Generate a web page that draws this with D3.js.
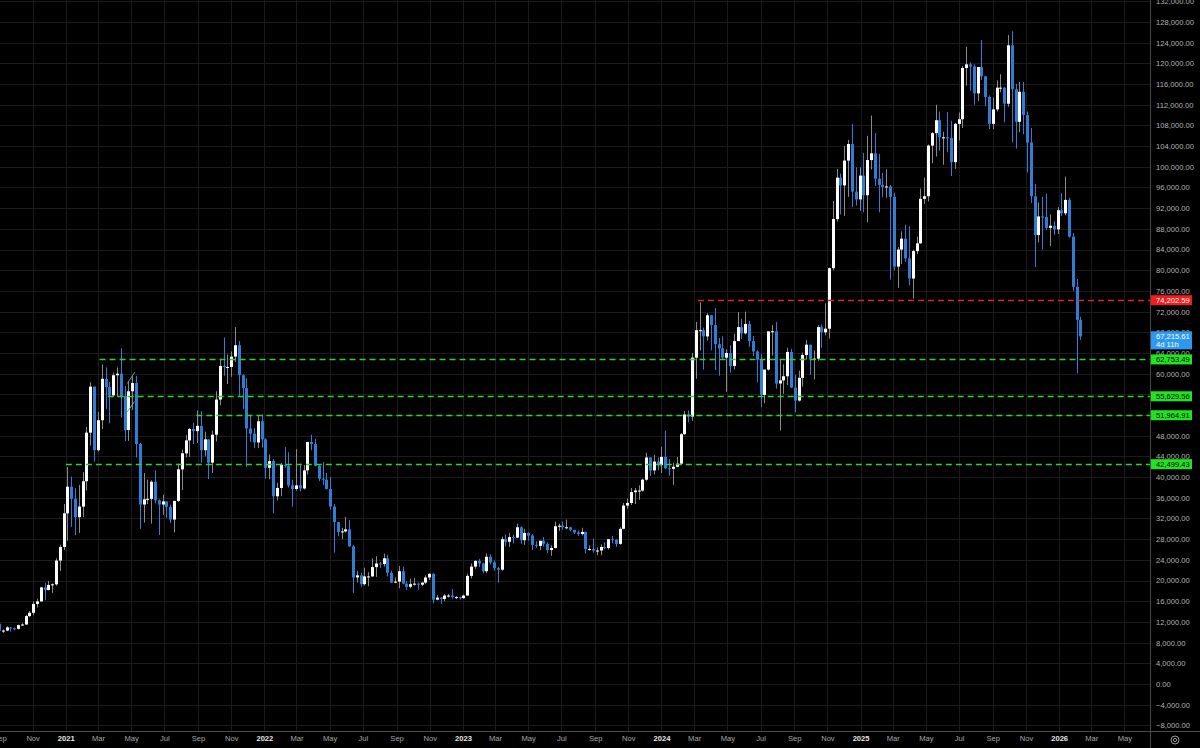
<!DOCTYPE html>
<html>
<head>
<meta charset="utf-8">
<script src="https://cdn.jsdelivr.net/npm/d3@7"></script>
<style>
  html, body { margin: 0; padding: 0; background: #000; }
  svg { display: block; font-family: "Liberation Sans", Arial, sans-serif; }
</style>
</head>
<body>
<svg width="1200" height="748"></svg>
<script>
// недельные свечи BTC: [начало недели, open, high, low, close]
const weeks2020 = [
  ["2020-08-31", 11650, 12090, 9880, 10280],
  ["2020-09-07", 10280, 10580, 9880, 10330],
  ["2020-09-14", 10330, 11180, 10200, 10930],
  ["2020-09-21", 10930, 10990, 10140, 10770],
  ["2020-09-28", 10770, 10950, 10380, 10670],
  ["2020-10-05", 10670, 11490, 10540, 11380],
  ["2020-10-12", 11380, 11720, 11220, 11500],
  ["2020-10-19", 11500, 13350, 11420, 13120],
  ["2020-10-26", 13120, 14090, 12960, 13770],
  ["2020-11-02", 13770, 15960, 13300, 15480],
  ["2020-11-09", 15480, 16480, 14800, 15960],
  ["2020-11-16", 15960, 18790, 15950, 18680],
  ["2020-11-23", 18680, 19480, 16200, 18180],
  ["2020-11-30", 18180, 19920, 18100, 19150],
  ["2020-12-07", 19150, 19430, 17600, 19270],
  ["2020-12-14", 19270, 24300, 19000, 23860],
  ["2020-12-21", 23860, 26900, 21850, 26490],
  ["2020-12-28", 26490, 34800, 25900, 33000]
];

const weeks2021 = [
  ["2021-01-04", 33000, 41950, 27700, 38150],
  ["2021-01-11", 38150, 40100, 30400, 35800],
  ["2021-01-18", 35800, 37850, 28800, 32250],
  ["2021-01-25", 32250, 38500, 29200, 34300],
  ["2021-02-01", 34300, 40950, 32300, 39200],
  ["2021-02-08", 39200, 49700, 37400, 48600],
  ["2021-02-15", 48600, 58350, 46100, 57500],
  ["2021-02-22", 57500, 57500, 43000, 45200],
  ["2021-03-01", 45200, 52600, 44950, 51000],
  ["2021-03-08", 51000, 61780, 49300, 59000],
  ["2021-03-15", 59000, 61200, 53200, 57400],
  ["2021-03-22", 57400, 58400, 50400, 55800],
  ["2021-03-29", 55800, 60200, 55500, 59700],
  ["2021-04-05", 59700, 61200, 55500, 60000],
  ["2021-04-12", 60000, 64900, 51500, 55700],
  ["2021-04-19", 55700, 57600, 47000, 49100],
  ["2021-04-26", 49100, 58400, 47000, 56600],
  ["2021-05-03", 56600, 59500, 53000, 58200],
  ["2021-05-10", 58200, 59600, 43800, 46400],
  ["2021-05-17", 46400, 46600, 30000, 34700],
  ["2021-05-24", 34700, 40800, 31200, 35700],
  ["2021-05-31", 35700, 39500, 34800, 35800],
  ["2021-06-07", 35800, 39400, 31000, 39100],
  ["2021-06-14", 39100, 41300, 34900, 35500],
  ["2021-06-21", 35500, 35700, 28800, 34700],
  ["2021-06-28", 34700, 36600, 32700, 35300],
  ["2021-07-05", 35300, 35300, 32100, 34250],
  ["2021-07-12", 34250, 34700, 31100, 31800],
  ["2021-07-19", 31800, 35400, 29300, 35400],
  ["2021-07-26", 35400, 42600, 35200, 41500],
  ["2021-08-02", 41500, 45300, 37500, 44600],
  ["2021-08-09", 44600, 48100, 43800, 47100],
  ["2021-08-16", 47100, 49500, 43900, 49300],
  ["2021-08-23", 49300, 50500, 46400, 48900],
  ["2021-08-30", 48900, 52900, 46600, 49900],
  ["2021-09-06", 49900, 52800, 42800, 45200],
  ["2021-09-13", 45200, 48800, 44000, 47300],
  ["2021-09-20", 47300, 47300, 39600, 42800],
  ["2021-09-27", 42800, 49000, 40800, 48200],
  ["2021-10-04", 48200, 56600, 46900, 55000],
  ["2021-10-11", 55000, 62900, 53900, 61500],
  ["2021-10-18", 61500, 67000, 59600, 61300],
  ["2021-10-25", 61300, 63700, 58000, 61300],
  ["2021-11-01", 61300, 64300, 59400, 63300],
  ["2021-11-08", 63300, 69000, 62300, 65500],
  ["2021-11-15", 65500, 66300, 55600, 59700],
  ["2021-11-22", 59700, 59900, 53200, 57200],
  ["2021-11-29", 57200, 59100, 42000, 49400],
  ["2021-12-06", 49400, 51900, 46800, 48400],
  ["2021-12-13", 48400, 49500, 45600, 46700],
  ["2021-12-20", 46700, 51900, 45600, 50800],
  ["2021-12-27", 50800, 52100, 45700, 47300]
];

const weeks2022 = [
  ["2022-01-03", 47300, 47500, 39700, 41800],
  ["2022-01-10", 41800, 44400, 39600, 43100],
  ["2022-01-17", 43100, 43500, 33000, 36300],
  ["2022-01-24", 36300, 38900, 35500, 37900],
  ["2022-01-31", 37900, 42700, 36300, 42400],
  ["2022-02-07", 42400, 45800, 41800, 42200],
  ["2022-02-14", 42200, 44800, 38000, 38400],
  ["2022-02-21", 38400, 39500, 34300, 37700],
  ["2022-02-28", 37700, 45400, 37400, 38400],
  ["2022-03-07", 38400, 42600, 37200, 37800],
  ["2022-03-14", 37800, 42300, 37600, 41300],
  ["2022-03-21", 41300, 46700, 40500, 46800],
  ["2022-03-28", 46800, 48200, 45200, 46400],
  ["2022-04-04", 46400, 47400, 42100, 42200],
  ["2022-04-11", 42200, 42400, 39200, 39700],
  ["2022-04-18", 39700, 42900, 38500, 39500],
  ["2022-04-25", 39500, 40800, 37600, 37700],
  ["2022-05-02", 37700, 40000, 33700, 34300],
  ["2022-05-09", 34300, 34800, 25400, 31300],
  ["2022-05-16", 31300, 31300, 28600, 29400],
  ["2022-05-23", 29400, 30200, 28000, 29500],
  ["2022-05-30", 29500, 32300, 29300, 29900],
  ["2022-06-06", 29900, 31700, 26500, 26600],
  ["2022-06-13", 26600, 26900, 17600, 20600],
  ["2022-06-20", 20600, 21900, 19600, 21000],
  ["2022-06-27", 21000, 21500, 18800, 19300],
  ["2022-07-04", 19300, 22500, 19000, 20800],
  ["2022-07-11", 20800, 21600, 18900, 20800],
  ["2022-07-18", 20800, 24300, 20700, 22600],
  ["2022-07-25", 22600, 24700, 20700, 23300],
  ["2022-08-01", 23300, 23600, 22400, 23200],
  ["2022-08-08", 23200, 25200, 22700, 24300],
  ["2022-08-15", 24300, 25000, 20800, 21500],
  ["2022-08-22", 21500, 21900, 19500, 19600],
  ["2022-08-29", 19600, 20600, 19500, 19800],
  ["2022-09-05", 19800, 22800, 18500, 21800],
  ["2022-09-12", 21800, 22700, 19300, 19400],
  ["2022-09-19", 19400, 19900, 18200, 18800],
  ["2022-09-26", 18800, 20400, 18500, 19300],
  ["2022-10-03", 19300, 20500, 19000, 19400],
  ["2022-10-10", 19400, 19600, 18200, 19200],
  ["2022-10-17", 19200, 19700, 18900, 19600],
  ["2022-10-24", 19600, 21000, 19300, 20600],
  ["2022-10-31", 20600, 21400, 20100, 21300],
  ["2022-11-07", 21300, 21400, 15600, 16300],
  ["2022-11-14", 16300, 17200, 16200, 16700],
  ["2022-11-21", 16700, 16800, 15500, 16450],
  ["2022-11-28", 16450, 17400, 16000, 17100],
  ["2022-12-05", 17100, 17400, 16700, 17100],
  ["2022-12-12", 17100, 18400, 16500, 16800],
  ["2022-12-19", 16800, 17000, 16400, 16800],
  ["2022-12-26", 16800, 16900, 16300, 16600]
];

const weeks2023 = [
  ["2023-01-02", 16600, 17300, 16500, 17100],
  ["2023-01-09", 17100, 21300, 17100, 20900],
  ["2023-01-16", 20900, 23300, 20400, 22700],
  ["2023-01-23", 22700, 23900, 22300, 23800],
  ["2023-01-30", 23800, 24200, 22600, 23300],
  ["2023-02-06", 23300, 23400, 21400, 21800],
  ["2023-02-13", 21800, 25250, 21400, 24600],
  ["2023-02-20", 24600, 25100, 23100, 23500],
  ["2023-02-27", 23500, 23900, 21900, 22400],
  ["2023-03-06", 22400, 22600, 19600, 22100],
  ["2023-03-13", 22100, 28500, 21900, 28000],
  ["2023-03-20", 28000, 28900, 26600, 27500],
  ["2023-03-27", 27500, 29200, 26500, 28400],
  ["2023-04-03", 28400, 28800, 27200, 28300],
  ["2023-04-10", 28300, 31000, 28200, 30300],
  ["2023-04-17", 30300, 30500, 27100, 27800],
  ["2023-04-24", 27800, 30000, 26900, 29200],
  ["2023-05-01", 29200, 29300, 27700, 28700],
  ["2023-05-08", 28700, 29000, 25900, 26900],
  ["2023-05-15", 26900, 27600, 26300, 26700],
  ["2023-05-22", 26700, 27400, 25900, 27700],
  ["2023-05-29", 27700, 28400, 26600, 27100],
  ["2023-06-05", 27100, 27400, 25300, 25900],
  ["2023-06-12", 25900, 26800, 24800, 26300],
  ["2023-06-19", 26300, 31400, 26200, 30500],
  ["2023-06-26", 30500, 31000, 29600, 30600],
  ["2023-07-03", 30600, 31400, 29800, 30300],
  ["2023-07-10", 30300, 31800, 29900, 30300],
  ["2023-07-17", 30300, 30400, 29500, 29800],
  ["2023-07-24", 29800, 29800, 29000, 29300],
  ["2023-07-31", 29300, 29700, 28600, 29000],
  ["2023-08-07", 29000, 30200, 28700, 29400],
  ["2023-08-14", 29400, 29500, 25200, 26100],
  ["2023-08-21", 26100, 26800, 25800, 26100],
  ["2023-08-28", 26100, 28100, 25400, 25800],
  ["2023-09-04", 25800, 26400, 24900, 25800],
  ["2023-09-11", 25800, 27000, 24900, 26500],
  ["2023-09-18", 26500, 27400, 26000, 26300],
  ["2023-09-25", 26300, 28000, 26000, 28000],
  ["2023-10-02", 28000, 28600, 27200, 27900],
  ["2023-10-09", 27900, 28000, 26500, 27100],
  ["2023-10-16", 27100, 30300, 26900, 30000],
  ["2023-10-23", 30000, 35000, 29900, 34500],
  ["2023-10-30", 34500, 35900, 33900, 35000],
  ["2023-11-06", 35000, 37900, 34600, 37100],
  ["2023-11-13", 37100, 37900, 34800, 37400],
  ["2023-11-20", 37400, 38400, 35600, 37400],
  ["2023-11-27", 37400, 39700, 37200, 39500],
  ["2023-12-04", 39500, 44700, 39300, 43800],
  ["2023-12-11", 43800, 43800, 40200, 41300],
  ["2023-12-18", 41300, 44300, 40500, 43000],
  ["2023-12-25", 43000, 43800, 41300, 42300]
];

const weeks2024 = [
  ["2024-01-01", 42300, 45900, 40800, 43900],
  ["2024-01-08", 43900, 49000, 41500, 41700],
  ["2024-01-15", 41700, 43500, 40300, 41600],
  ["2024-01-22", 41600, 42800, 38500, 42000],
  ["2024-01-29", 42000, 43900, 41900, 42600],
  ["2024-02-05", 42600, 48500, 42300, 48300],
  ["2024-02-12", 48300, 52800, 48200, 52100],
  ["2024-02-19", 52100, 52900, 50600, 51700],
  ["2024-02-26", 51700, 64000, 50900, 63100],
  ["2024-03-04", 63100, 70000, 59000, 68400],
  ["2024-03-11", 68400, 73800, 64500, 68400],
  ["2024-03-18", 68400, 68900, 60800, 67200],
  ["2024-03-25", 67200, 71700, 66400, 71300],
  ["2024-04-01", 71300, 71300, 64500, 69400],
  ["2024-04-08", 69400, 72700, 60700, 65700],
  ["2024-04-15", 65700, 66900, 59600, 64900],
  ["2024-04-22", 64900, 67200, 62800, 63100],
  ["2024-04-29", 63100, 64700, 56500, 64000],
  ["2024-05-06", 64000, 65500, 60200, 61500],
  ["2024-05-13", 61500, 67700, 60800, 66300],
  ["2024-05-20", 66300, 71900, 66300, 69000],
  ["2024-05-27", 69000, 70600, 66700, 67800],
  ["2024-06-03", 67800, 72000, 67600, 69600],
  ["2024-06-10", 69600, 70200, 65200, 66300],
  ["2024-06-17", 66300, 67300, 63400, 64300],
  ["2024-06-24", 64300, 64500, 58400, 62700],
  ["2024-07-01", 62700, 63800, 53500, 55900],
  ["2024-07-08", 55900, 60400, 54300, 60800],
  ["2024-07-15", 60800, 66000, 60600, 68200],
  ["2024-07-22", 68200, 69400, 63500, 68200],
  ["2024-07-29", 68200, 70000, 57100, 58100],
  ["2024-08-05", 58100, 62800, 49000, 58700],
  ["2024-08-12", 58700, 61800, 56100, 59500],
  ["2024-08-19", 59500, 65000, 57800, 64200],
  ["2024-08-26", 64200, 64800, 57200, 57300],
  ["2024-09-02", 57300, 59800, 52500, 54800],
  ["2024-09-09", 54800, 60600, 54600, 59200],
  ["2024-09-16", 59200, 64100, 57500, 63600],
  ["2024-09-23", 63600, 66500, 62700, 65600],
  ["2024-09-30", 65600, 65600, 59800, 62900],
  ["2024-10-07", 62900, 64500, 58900, 62900],
  ["2024-10-14", 62900, 69400, 62500, 69000],
  ["2024-10-21", 69000, 69500, 65000, 68000],
  ["2024-10-28", 68000, 73600, 67400, 68700],
  ["2024-11-04", 68700, 80500, 66800, 80400],
  ["2024-11-11", 80400, 93400, 80000, 89900],
  ["2024-11-18", 89900, 99600, 89400, 97900],
  ["2024-11-25", 97900, 98700, 90800, 96400],
  ["2024-12-02", 96400, 104000, 90500, 101200],
  ["2024-12-09", 101200, 105200, 94200, 104400],
  ["2024-12-16", 104400, 108300, 92200, 95200],
  ["2024-12-23", 95200, 99900, 92500, 93700],
  ["2024-12-30", 93700, 99900, 91500, 98300]
];

const weeks2025 = [
  ["2025-01-06", 98300, 102700, 91200, 94500],
  ["2025-01-13", 94500, 106000, 89300, 101300],
  ["2025-01-20", 101300, 109900, 99500, 102600],
  ["2025-01-27", 102600, 106500, 96300, 97700],
  ["2025-02-03", 97700, 102500, 91200, 96500],
  ["2025-02-10", 96500, 98800, 94100, 96100],
  ["2025-02-17", 96100, 99500, 94000, 96200],
  ["2025-02-24", 96200, 96500, 78200, 94200],
  ["2025-03-03", 94200, 95000, 80000, 80700],
  ["2025-03-10", 80700, 84500, 76600, 84000],
  ["2025-03-17", 84000, 87500, 81200, 86100],
  ["2025-03-24", 86100, 88800, 81600, 82300],
  ["2025-03-31", 82300, 88500, 77100, 78400],
  ["2025-04-07", 78400, 84000, 74500, 83700],
  ["2025-04-14", 83700, 86500, 83100, 85200],
  ["2025-04-21", 85200, 95800, 85100, 93800],
  ["2025-04-28", 93800, 97900, 92800, 94300],
  ["2025-05-05", 94300, 104300, 93300, 104100],
  ["2025-05-12", 104100, 106700, 100700, 106500],
  ["2025-05-19", 106500, 112000, 102000, 109000],
  ["2025-05-26", 109000, 110700, 103100, 105700],
  ["2025-06-02", 105700, 106800, 100400, 105700],
  ["2025-06-09", 105700, 110600, 102800, 105600],
  ["2025-06-16", 105600, 108900, 98200, 100900],
  ["2025-06-23", 100900, 108500, 99600, 108300],
  ["2025-06-30", 108300, 110500, 105100, 109200],
  ["2025-07-07", 109200, 119500, 107500, 119100],
  ["2025-07-14", 119100, 123200, 115700, 119800],
  ["2025-07-21", 119800, 120200, 114700, 119400],
  ["2025-07-28", 119400, 119800, 112000, 114200],
  ["2025-08-04", 114200, 119300, 112700, 119300],
  ["2025-08-11", 119300, 124500, 116800, 117500],
  ["2025-08-18", 117500, 117600, 111700, 113500],
  ["2025-08-25", 113500, 113800, 107300, 108300],
  ["2025-09-01", 108300, 113400, 107300, 111100],
  ["2025-09-08", 111100, 116700, 110700, 115300],
  ["2025-09-15", 115300, 117900, 114400, 115300],
  ["2025-09-22", 115300, 115400, 108600, 112200],
  ["2025-09-29", 112200, 125500, 111600, 123500],
  ["2025-10-06", 123500, 126200, 104700, 115000],
  ["2025-10-13", 115000, 116000, 103500, 108700],
  ["2025-10-20", 108700, 116400, 106700, 114500],
  ["2025-10-27", 114500, 116400, 106300, 110000],
  ["2025-11-03", 110000, 110700, 98900, 104700],
  ["2025-11-10", 104700, 107500, 93000, 94300],
  ["2025-11-17", 94300, 96700, 80600, 86800],
  ["2025-11-24", 86800, 93100, 85400, 90400],
  ["2025-12-01", 90400, 94200, 84000, 90300],
  ["2025-12-08", 90300, 94800, 87800, 88200],
  ["2025-12-15", 88200, 90800, 84700, 88600],
  ["2025-12-22", 88600, 89500, 86800, 87900],
  ["2025-12-29", 87900, 92200, 87000, 91600]
];

const weeks2026 = [
  ["2026-01-05", 91600, 94900, 90500, 91000],
  ["2026-01-12", 91000, 98100, 90600, 93600],
  ["2026-01-19", 93600, 94000, 86300, 86500],
  ["2026-01-26", 86500, 87200, 76000, 76800],
  ["2026-02-02", 76800, 78300, 60100, 70400],
  ["2026-02-09", 70400, 71000, 66500, 67215.61]
];

// горизонтальные уровни
const levelPrices = [74202.59, 62753.49, 55629.56, 51964.91, 42499.43];
const levelStarts = ["2024-03-08", "2021-03-04", "2021-03-19", "2021-08-29", "2021-01-01"];
const levelKinds  = ["resistance", "support", "support", "support", "support"];

// текущая цена и время до закрытия свечи
const lastPrice = 67215.61;
const countdown = "4d 11h";

// короткие трендовые линии (дата, цена)
const trendSegments = [
  [["2021-04-24", 58100], ["2021-05-08", 60300]],
  [["2021-04-24", 52600], ["2021-05-07", 54600]]
];

const parse = d3.utcParse("%Y-%m-%d");
const candles = [].concat(weeks2020, weeks2021, weeks2022, weeks2023, weeks2024, weeks2025, weeks2026)
  .map(r => ({ date: parse(r[0]), o: r[1], h: r[2], l: r[3], c: r[4] }));

const svg = d3.select("svg");
const W = 1200, H = 748;
const plotW = 1150, plotH = 731;

svg.append("rect").attr("width", W).attr("height", H).attr("fill", "#000");

const x = d3.scaleUtc()
  .domain([parse("2020-09-02"), parse("2026-06-17")])
  .range([0, plotW]);

const y = d3.scaleLinear()
  .domain([-9090, 132250])
  .range([plotH, 0]);

const priceTicks = d3.range(-8000, 132001, 4000);
// сентябрь 2020 стоит почти на левой границе, его подпись видна наполовину
const monthTicks = d3.utcMonth.every(2).range(parse("2020-09-01"), x.domain()[1]);

svg.append("defs").append("clipPath").attr("id", "plot")
  .append("rect").attr("width", plotW).attr("height", plotH);

// сетка
const grid = svg.append("g").attr("clip-path", "url(#plot)");
grid.selectAll(".hg").data(priceTicks).enter().append("line")
  .attr("x1", 0).attr("x2", plotW)
  .attr("y1", d => Math.round(y(d)) + 0.5).attr("y2", d => Math.round(y(d)) + 0.5)
  .attr("stroke", "#1b1b1b").attr("stroke-width", 1);
grid.selectAll(".vg").data(monthTicks).enter().append("line")
  .attr("x1", d => Math.round(x(d)) + 0.5).attr("x2", d => Math.round(x(d)) + 0.5)
  .attr("y1", 0).attr("y2", plotH)
  .attr("stroke", "#1b1b1b").attr("stroke-width", 1);

// уровни
const levels = levelPrices.map((p, i) => ({ price: p, start: parse(levelStarts[i]), kind: levelKinds[i] }));
const levelColor = k => k === "resistance" ? "#d8262c" : "#2fd12f";

const plot = svg.append("g").attr("clip-path", "url(#plot)");

// свечи
const bodyW = 3;
const upBody = "#ffffff", upWick = "#8a8a8a", downColor = "#2f7ed6";

plot.selectAll(".wick").data(candles).enter().append("line")
  .attr("x1", d => Math.round(x(d.date)) + 0.5)
  .attr("x2", d => Math.round(x(d.date)) + 0.5)
  .attr("y1", d => y(d.h))
  .attr("y2", d => y(d.l))
  .attr("stroke", d => d.c >= d.o ? upWick : downColor)
  .attr("stroke-width", 1);

plot.selectAll(".body").data(candles).enter().append("rect")
  .attr("x", d => Math.round(x(d.date)) - 1)
  .attr("y", d => y(Math.max(d.o, d.c)))
  .attr("width", bodyW)
  .attr("height", d => Math.max(1, Math.abs(y(d.o) - y(d.c))))
  .attr("fill", d => d.c >= d.o ? upBody : downColor);

// пунктирные уровни
plot.selectAll(".level").data(levels).enter().append("line")
  .attr("x1", d => x(d.start)).attr("x2", plotW)
  .attr("y1", d => Math.round(y(d.price)) + 0.5).attr("y2", d => Math.round(y(d.price)) + 0.5)
  .attr("stroke", d => levelColor(d.kind))
  .attr("stroke-width", 1.5)
  .attr("stroke-dasharray", "6,4");

// трендовые отрезки
plot.selectAll(".trend").data(trendSegments).enter().append("line")
  .attr("x1", d => x(parse(d[0][0]))).attr("y1", d => y(d[0][1]))
  .attr("x2", d => x(parse(d[1][0]))).attr("y2", d => y(d[1][1]))
  .attr("stroke", "#3fbfae").attr("stroke-width", 1);

// разделители осей
svg.append("line").attr("x1", 0).attr("x2", W).attr("y1", plotH + 0.5).attr("y2", plotH + 0.5)
  .attr("stroke", "#4a4a4a");
svg.append("line").attr("x1", plotW + 0.5).attr("x2", plotW + 0.5).attr("y1", 0).attr("y2", H)
  .attr("stroke", "#4a4a4a");

// ось цен (справа)
const axisY = svg.append("g")
  .attr("transform", `translate(${plotW},0)`)
  .call(d3.axisRight(y).tickValues(priceTicks).tickFormat(d3.format(",.2f")).tickSize(0).tickPadding(6));
axisY.select(".domain").remove();
axisY.selectAll("text")
  .attr("fill", "#b4b4b4")
  .style("font-size", "7.6px")
  .style("font-family", "\"Liberation Sans\", Arial, sans-serif");

// ось времени (снизу)
const axisX = svg.append("g")
  .attr("transform", `translate(0,${plotH})`)
  .call(d3.axisBottom(x).tickValues(monthTicks)
    .tickFormat(d => d.getUTCMonth() === 0 ? d3.utcFormat("%Y")(d) : d3.utcFormat("%b")(d))
    .tickSize(0).tickPadding(5));
axisX.select(".domain").remove();
axisX.selectAll("text")
  .attr("fill", d => d.getUTCMonth() === 0 ? "#e6e6e6" : "#a8a8a8")
  .style("font-weight", d => d.getUTCMonth() === 0 ? "bold" : "normal")
  .style("font-size", "7.6px")
  .style("font-family", "\"Liberation Sans\", Arial, sans-serif");

// метки уровней на оси
const tagX = plotW + 1, tagW = 41;
const tags = svg.append("g");
levels.forEach(d => {
  const yc = y(d.price);
  tags.append("rect")
    .attr("x", tagX).attr("y", yc - 5).attr("width", tagW).attr("height", 10)
    .attr("fill", d.kind === "resistance" ? "#f21c1c" : "#1fe51f");
  tags.append("text")
    .attr("x", tagX + 5).attr("y", yc).attr("dy", "0.35em")
    .attr("fill", d.kind === "resistance" ? "#ffffff" : "#000000")
    .style("font-size", "7.6px")
    .text(d3.format(",.2f")(d.price));
});

// текущая цена
const yl = y(lastPrice);
tags.append("rect")
  .attr("x", tagX).attr("y", yl - 5).attr("width", tagW).attr("height", 18)
  .attr("fill", "#2d9af0");
tags.append("text")
  .attr("x", tagX + 5).attr("y", yl).attr("dy", "0.35em")
  .attr("fill", "#ffffff").style("font-size", "7.6px")
  .text(d3.format(",.2f")(lastPrice));
tags.append("text")
  .attr("x", tagX + 5).attr("y", yl + 8).attr("dy", "0.35em")
  .attr("fill", "#ffffff").style("font-size", "7.6px")
  .text(countdown);

// значок настроек
const gear = svg.append("g").attr("transform", `translate(${(plotW + W) / 2},${(plotH + H) / 2 + 0.5})`);
gear.append("circle").attr("r", 4).attr("fill", "none").attr("stroke", "#9a9a9a").attr("stroke-width", 1);
gear.append("circle").attr("r", 1.6).attr("fill", "none").attr("stroke", "#9a9a9a").attr("stroke-width", 1);
</script>
</body>
</html>
